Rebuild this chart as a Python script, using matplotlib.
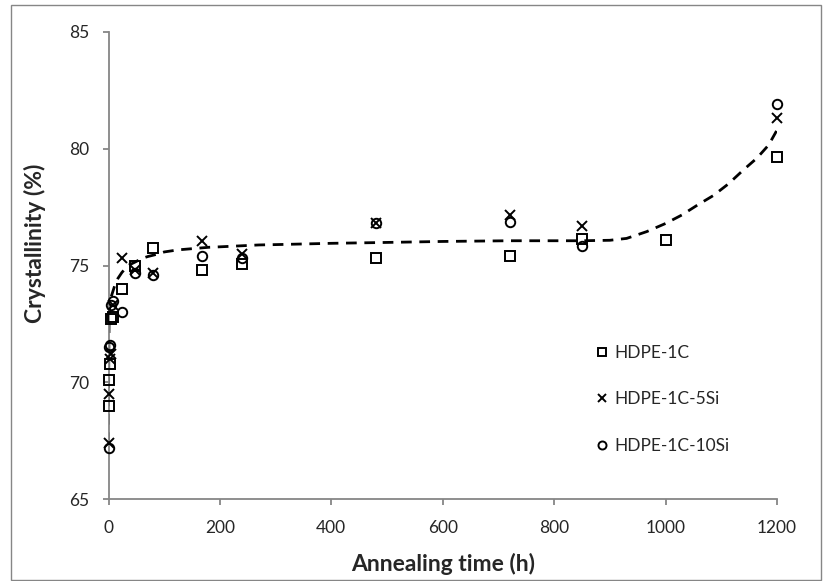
import matplotlib.pyplot as plt
from matplotlib.patches import Rectangle

plt.rcParams['font.family'] = ['Lato', 'DejaVu Sans']
plt.rcParams['lines.scale_dashes'] = False

# annealing times (h)
t_1c = [0, 1, 2, 4, 8, 24, 48, 80, 168, 240, 480, 720, 850, 1000, 1200]
t_5si = [0, 1, 2, 4, 8, 24, 48, 80, 168, 240, 480, 720, 850, 1200]
t_10si = [0, 1, 2, 4, 8, 24, 48, 80, 168, 240, 480, 720, 850, 1200]

# crystallinity (%)
cr_1c = [69.0, 70.1, 70.8, 72.7, 72.8, 74.0, 75.0, 75.75, 74.8, 75.05, 75.3, 75.4, 76.15, 76.1, 79.65]
cr_5si = [67.4, 69.5, 71.0, 71.2, 73.3, 75.3, 74.8, 74.7, 76.05, 75.5, 76.8, 77.15, 76.7, 81.3]
cr_10si = [67.2, 71.5, 71.6, 73.3, 73.5, 73.0, 74.7, 74.6, 75.4, 75.3, 76.8, 76.85, 75.85, 81.9]

# dashed trend curve
trend_t = [0, 0, 0.5, 1, 2, 4, 8, 12, 17, 24, 35, 48, 60, 70, 90, 100, 125, 150, 180,
           200, 235, 270, 310, 400, 480, 600, 720, 850, 900, 930, 966, 1000, 1029,
           1058, 1086, 1113, 1140, 1164, 1185, 1200]
trend_y = [67.4, 69.0, 71.0, 72.5, 73.2, 73.6, 73.9, 74.2, 74.45, 74.7, 75.0, 75.15,
           75.3, 75.38, 75.5, 75.58, 75.67, 75.72, 75.78, 75.8, 75.84, 75.88, 75.9,
           75.95, 75.98, 76.03, 76.06, 76.06, 76.08, 76.16, 76.45, 76.8, 77.16, 77.6,
           78.0, 78.5, 79.1, 79.6, 80.16, 80.8]

W, H = 823, 581
fig = plt.figure(figsize=(W / 100, H / 100), dpi=100)
fig.patches.append(Rectangle((11 / W, 1 / H), 810 / W, 575 / H, transform=fig.transFigure,
                             fill=False, edgecolor='#868686', linewidth=1.0))

ax = fig.add_axes([108.5 / W, (H - 499) / H, (777 - 108.5) / W, (499 - 32) / H])

ax.plot(trend_t, trend_y, color='black', linewidth=2.0, dashes=(7.7, 5.5), zorder=2)

mk = dict(linestyle='none', color='black', markersize=6.8, markeredgewidth=1.4,
          zorder=3, clip_on=False)
ax.plot(t_1c, cr_1c, marker='s', markerfacecolor='none', label='HDPE-1C', **mk)
ax.plot(t_5si, cr_5si, marker='x', label='HDPE-1C-5Si', **mk)
ax.plot(t_10si, cr_10si, marker='o', markerfacecolor='none', label='HDPE-1C-10Si', **mk)

ax.set_xlim(0, 1200)
ax.set_ylim(65, 85)
ax.set_xticks(range(0, 1201, 200))
ax.set_yticks(range(65, 86, 5))

for s in ['top', 'right']:
    ax.spines[s].set_visible(False)
for s in ['left', 'bottom']:
    ax.spines[s].set_color('#868686')
    ax.spines[s].set_linewidth(1.3)
ax.tick_params(direction='out', length=4, width=1.3, color='#868686',
               labelsize=12.5, labelcolor='#262626')
ax.tick_params(axis='y', pad=10)
ax.tick_params(axis='x', pad=11)

ax.set_xlabel('Annealing time (h)', fontsize=16.5, fontweight='bold', color='#262626')
ax.set_ylabel('Crystallinity (%)', fontsize=16.5, fontweight='bold', color='#262626')
ax.xaxis.set_label_coords(0.5, -(553 - 499) / (499 - 32))
ax.yaxis.set_label_coords(-(108.5 - 46) / (777 - 108.5), (499 - 243) / (499 - 32))

leg = ax.legend(loc='upper left', bbox_to_anchor=(597 / W, (H - 345) / H),
                bbox_transform=fig.transFigure, frameon=False, fontsize=12.5,
                handlelength=0.6, handletextpad=0.4, labelspacing=1.75,
                markerscale=0.85, borderpad=0, borderaxespad=0)
for txt in leg.get_texts():
    txt.set_color('#262626')

fig.savefig('out.png', dpi=100)
